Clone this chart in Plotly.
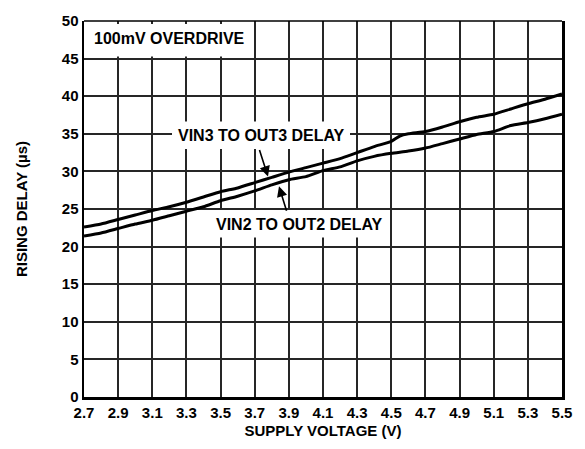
import plotly.graph_objects as go

# ---- data ----
supply_v = [2.7, 2.8, 2.9, 3.0, 3.1, 3.2, 3.3, 3.4, 3.5, 3.6, 3.7, 3.8, 3.9, 4.0,
            4.1, 4.2, 4.3, 4.4, 4.5, 4.55, 4.6, 4.7, 4.8, 4.9, 5.0, 5.1, 5.2, 5.3, 5.4, 5.5]
vin3_delay = [22.6, 23.0, 23.6, 24.2, 24.8, 25.3, 25.9, 26.6, 27.3, 27.8, 28.5, 29.2, 29.9, 30.5,
              31.1, 31.7, 32.5, 33.3, 34.0, 34.7, 35.0, 35.3, 35.9, 36.6, 37.2, 37.6, 38.3, 39.0, 39.6, 40.3]

supply_v2 = [2.7, 2.8, 2.9, 3.0, 3.1, 3.2, 3.3, 3.4, 3.5, 3.6, 3.7, 3.8, 3.9, 4.0,
             4.1, 4.2, 4.3, 4.4, 4.5, 4.6, 4.7, 4.8, 4.9, 5.0, 5.1, 5.2, 5.3, 5.4, 5.5]
vin2_delay = [21.4, 21.8, 22.4, 23.0, 23.5, 24.1, 24.7, 25.3, 26.1, 26.7, 27.4, 28.2, 28.9, 29.3,
              30.1, 30.6, 31.4, 32.0, 32.4, 32.7, 33.1, 33.7, 34.3, 34.9, 35.3, 36.1, 36.5, 37.0, 37.6]

x_ticks = [2.7, 2.9, 3.1, 3.3, 3.5, 3.7, 3.9, 4.1, 4.3, 4.5, 4.7, 4.9, 5.1, 5.3, 5.5]
x_tick_labels = ["2.7", "2.9", "3.1", "3.3", "3.5", "3.7", "3.9", "4.1", "4.3", "4.5",
                 "4.7", "4.9", "5.1", "5.3", "5.5"]
y_ticks = [0, 5, 10, 15, 20, 25, 30, 35, 40, 45, 50]

FONT = "Liberation Sans, Arial, sans-serif"
bold = dict(family=FONT, size=15, color="black", weight="bold")
bold_ann = dict(family=FONT, size=16, color="black", weight="bold")

fig = go.Figure()
fig.add_trace(go.Scatter(x=supply_v, y=vin3_delay, mode="lines",
                         line=dict(color="black", width=3, shape="spline", smoothing=0.5),
                         name="VIN3 TO OUT3 DELAY", showlegend=False, hoverinfo="skip"))
fig.add_trace(go.Scatter(x=supply_v2, y=vin2_delay, mode="lines",
                         line=dict(color="black", width=3, shape="spline", smoothing=0.5),
                         name="VIN2 TO OUT2 DELAY", showlegend=False, hoverinfo="skip"))

# white boxes that interrupt the grid behind the labels (pixel -> data coords)
def px_to_x(px):
    return 2.7 + (px - 84) / 478 * 2.8

def px_to_y(py):
    return (397 - py) / 382 * 50

boxes = [(84, 18, 252, 51), (172, 117, 350, 145), (210, 207, 385, 235)]
for (x0, y0, x1, y1) in boxes:
    fig.add_shape(type="rect", xref="x", yref="y",
                  x0=px_to_x(x0), x1=px_to_x(x1), y0=px_to_y(y1), y1=px_to_y(y0),
                  fillcolor="white", line=dict(width=0), layer="above")

# top border (thinner)
fig.add_shape(type="line", xref="paper", yref="paper", x0=0, x1=1, y0=1, y1=1,
              line=dict(color="black", width=1.5), layer="above")

fig.add_annotation(x=px_to_x(169), y=px_to_y(33), xref="x", yref="y",
                   text="100mV OVERDRIVE", showarrow=False, font=bold_ann)
fig.add_annotation(x=px_to_x(261), y=px_to_y(131), xref="x", yref="y",
                   text="VIN3 TO OUT3 DELAY", showarrow=False, font=bold_ann)
fig.add_annotation(x=px_to_x(299), y=px_to_y(222), xref="x", yref="y",
                   text="VIN2 TO OUT2 DELAY", showarrow=False, font=bold_ann)

# arrows
fig.add_annotation(x=px_to_x(268), y=px_to_y(173), xref="x", yref="y",
                   ax=-9, ay=-28, text="", showarrow=True, arrowhead=2,
                   arrowsize=1.3, arrowwidth=1.6, arrowcolor="black")
fig.add_annotation(x=px_to_x(279), y=px_to_y(183), xref="x", yref="y",
                   ax=8, ay=26, text="", showarrow=True, arrowhead=2,
                   arrowsize=1.3, arrowwidth=1.6, arrowcolor="black")

fig.update_layout(
    width=585, height=449,
    margin=dict(l=84, r=23, t=15, b=52),
    paper_bgcolor="white", plot_bgcolor="white",
    font=bold,
    hovermode=False,
    xaxis=dict(range=[2.7, 5.5], tickvals=x_ticks, ticktext=x_tick_labels,
               showgrid=True, gridcolor="#262626", gridwidth=2,
               showline=True, linecolor="black", linewidth=2.5,
               ticks="", tickfont=bold, zeroline=False,
               title=dict(text="SUPPLY VOLTAGE (V)", font=bold, standoff=6)),
    yaxis=dict(range=[0, 50], tickvals=y_ticks,
               showgrid=True, gridcolor="#262626", gridwidth=2,
               showline=True, mirror=True, linecolor="black", linewidth=2.5,
               ticks="", tickfont=bold, zeroline=False,
               title=dict(text="RISING DELAY (µs)", font=bold, standoff=31)),
)

fig.write_html("out.html",
               config={"displayModeBar": False, "staticPlot": True},
               post_script="document.body.style.margin='0';document.body.style.overflow='hidden';")
